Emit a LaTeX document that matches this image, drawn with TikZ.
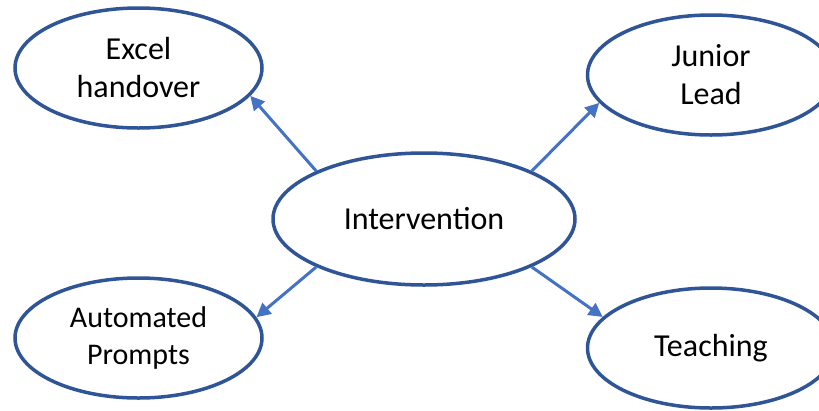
\documentclass[tikz,border=0pt]{standalone}
\usepackage{fontspec}
\setmainfont{Carlito}
\usetikzlibrary{shapes.geometric,arrows.meta}
\definecolor{ringblue}{HTML}{2F5597}
\definecolor{arrowblue}{HTML}{4472C4}
\tikzset{
  bubble/.style={ellipse, draw=ringblue, line width=3.5pt, fill=white,
    minimum width=#1, align=center, font=\fontsize{32}{38}\selectfont, inner sep=0pt},
  link/.style={draw=arrowblue, line width=3pt, -{Triangle[length=14pt,width=14pt]}}
}
\begin{document}
\begin{tikzpicture}[x=1pt,y=-1pt]
\useasboundingbox (0,0) rectangle (819,410);
\node[bubble=247pt, minimum height=120pt] (excel) at (138.5,68) {Excel\\handover};
\node[bubble=247pt, minimum height=120pt] (junior) at (711,75) {Junior\\Lead};
\node[bubble=302pt, minimum height=132pt] (inter) at (424,219) {Intervention};
\node[bubble=247pt, minimum height=120pt, font=\fontsize{30}{37}\selectfont] (auto) at (138.5,338) {Automated\\Prompts};
\node[bubble=247pt, minimum height=120pt] (teach) at (711,348) {Teaching};
\draw[link] (inter.156) -- (excel.-14);
\draw[link] (inter.24) -- (junior.-166);
\draw[link] (inter.-156) -- (auto.10);
\draw[link] (inter.-24) -- (teach.164);
\end{tikzpicture}
\end{document}
